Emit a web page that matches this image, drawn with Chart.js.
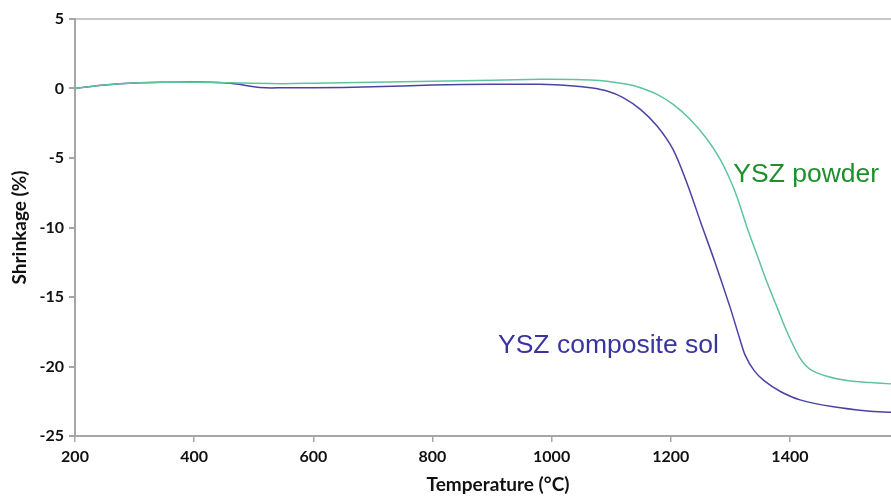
<!DOCTYPE html>
<html>
<head>
<meta charset="utf-8">
<script src="https://cdn.jsdelivr.net/npm/chart.js@4"></script>
<style>
  html, body { margin: 0; padding: 0; background: #fff; overflow: hidden; }
  canvas { display: block; }
</style>
</head>
<body>
<canvas id="shrinkChart" width="921" height="496"></canvas>
<script>
// dilatometer runs: temperature (°C) vs linear shrinkage (%)
const powderTemps = [200, 250, 300, 350, 400, 450, 475, 500, 550, 600, 700, 800, 900, 981, 1037, 1065, 1093, 1127, 1149, 1177, 1204, 1232, 1261, 1283, 1300, 1312, 1328, 1345, 1362, 1379, 1395, 1417, 1434, 1462, 1501, 1535, 1570];
const powderShrink = [0.0, 0.25, 0.4, 0.45, 0.45, 0.42, 0.4, 0.37, 0.35, 0.38, 0.45, 0.52, 0.6, 0.66, 0.65, 0.61, 0.52, 0.3, 0.06, -0.42, -1.14, -2.2, -3.65, -5.1, -6.6, -7.9, -10.0, -12.0, -14.0, -15.8, -17.5, -19.4, -20.2, -20.7, -21.05, -21.15, -21.25];

const solTemps = [200, 250, 300, 350, 400, 450, 475, 500, 520, 550, 600, 700, 800, 900, 981, 1037, 1065, 1093, 1120, 1149, 1177, 1204, 1228, 1250, 1275, 1300, 1315, 1325, 1340, 1356, 1384, 1417, 1473, 1530, 1570];
const solShrink = [0.0, 0.25, 0.4, 0.45, 0.47, 0.42, 0.3, 0.12, 0.05, 0.05, 0.05, 0.12, 0.25, 0.3, 0.3, 0.18, 0.05, -0.18, -0.65, -1.5, -2.7, -4.4, -6.9, -9.6, -12.6, -15.8, -17.9, -19.2, -20.3, -21.0, -21.8, -22.4, -22.9, -23.2, -23.3];

const xTicks = [200, 400, 600, 800, 1000, 1200, 1400];
const yTicks = [5, 0, -5, -10, -15, -20, -25];

const seriesNames = ['YSZ powder', 'YSZ composite sol'];
const lineColors = ['#5fc49e', '#4a43a3'];
const labelColors = ['#1e8f2c', '#3a34a0'];

const toPoints = (xs, ys) => xs.map((x, i) => ({ x: x, y: ys[i] }));

const tickFont = { family: 'Lato', weight: 'bold', size: 16 };
const titleFont = { family: 'Lato', weight: 'bold', size: 19 };
const axisGray = '#a6a6a6';

// curve names written next to each line
const curveLabels = {
  id: 'curveLabels',
  afterDatasetsDraw(chart) {
    const { ctx, scales: { x, y } } = chart;
    const spots = [
      { text: seriesNames[0], color: labelColors[0], t: 1305, s: -6.75 },
      { text: seriesNames[1], color: labelColors[1], t: 910, s: -19.0 }
    ];
    ctx.save();
    ctx.font = '26.5px "Liberation Sans", Arial, sans-serif';
    ctx.textBaseline = 'alphabetic';
    ctx.textAlign = 'left';
    spots.forEach(p => {
      ctx.fillStyle = p.color;
      ctx.fillText(p.text, x.getPixelForValue(p.t), y.getPixelForValue(p.s));
    });
    ctx.restore();
  }
};

new Chart(document.getElementById('shrinkChart').getContext('2d'), {
  type: 'line',
  data: {
    datasets: [
      {
        label: seriesNames[0],
        data: toPoints(powderTemps, powderShrink),
        borderColor: lineColors[0],
        borderWidth: 1.5,
        pointRadius: 0,
        tension: 0.3,
        fill: false
      },
      {
        label: seriesNames[1],
        data: toPoints(solTemps, solShrink),
        borderColor: lineColors[1],
        borderWidth: 1.5,
        pointRadius: 0,
        tension: 0.3,
        fill: false
      }
    ]
  },
  options: {
    responsive: false,
    animation: false,
    devicePixelRatio: 1,
    layout: { padding: { top: 19, right: 0, left: 0, bottom: 0 } },
    plugins: {
      legend: { display: false },
      tooltip: { enabled: false }
    },
    scales: {
      x: {
        type: 'linear',
        min: 200,
        max: 1620,
        afterFit: s => { s.height = 60; },
        afterBuildTicks: s => { s.ticks = xTicks.map(v => ({ value: v })); },
        border: { display: true, color: axisGray, width: 2 },
        grid: { drawOnChartArea: false, tickLength: 6, tickColor: axisGray, lineWidth: 1.5 },
        ticks: { color: '#111', font: tickFont, padding: 5, maxRotation: 0, callback: v => String(v) },
        title: {
          display: true,
          text: 'Temperature (°C)',
          color: '#111',
          font: titleFont,
          padding: { top: 0, bottom: 0 }
        }
      },
      y: {
        type: 'linear',
        min: -25,
        max: 5,
        afterFit: s => { s.width = 75; },
        afterBuildTicks: s => { s.ticks = yTicks.map(v => ({ value: v })); },
        border: { display: true, color: axisGray, width: 2 },
        grid: {
          drawOnChartArea: true,
          color: c => (c.tick && c.tick.value === 5 ? '#c8c8c8' : 'rgba(0,0,0,0)'),
          lineWidth: 2,
          tickLength: 6,
          tickColor: axisGray
        },
        ticks: { color: '#111', font: tickFont, padding: 5, callback: v => String(v) },
        title: {
          display: true,
          text: 'Shrinkage (%)',
          color: '#111',
          font: titleFont,
          padding: { top: 8, bottom: 0 }
        }
      }
    }
  },
  plugins: [curveLabels]
});
</script>
</body>
</html>
